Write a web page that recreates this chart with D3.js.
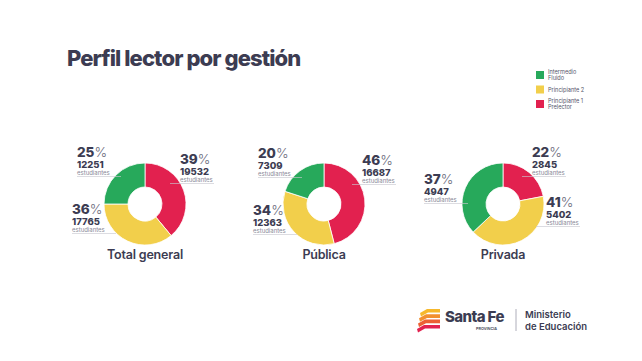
<!DOCTYPE html>
<html>
<head>
<meta charset="utf-8">
<script src="https://cdn.jsdelivr.net/npm/d3@7"></script>
<style>
  body { margin: 0; background: #fff; }
  svg { display: block; font-family: Inter, "Open Sans", sans-serif; }
</style>
</head>
<body>
<div id="chart"></div>
<script>
// Data
var groups = ["Total general", "Pública", "Privada"];
var categories = ["Principiante 1 Prelector", "Principiante 2", "Intermedio Fluido"];
var percents = {
  "Total general": [39, 36, 25],
  "Pública": [46, 34, 20],
  "Privada": [22, 41, 37]
};
var students = {
  "Total general": [19532, 17765, 12251],
  "Pública": [16687, 12363, 7309],
  "Privada": [2845, 5402, 4947]
};
var legendLabels = [["Intermedio", "Fluido"], ["Principiante 2"], ["Principiante 1", "Prelector"]];
var legendColors = ["#27a95b", "#f2cf4b", "#e2214f"];

var colors = { "Principiante 1 Prelector": "#e2214f", "Principiante 2": "#f2cf4b", "Intermedio Fluido": "#27a95b" };

// label offsets from each donut centre (layout only)
var labelOffsets = {
  "Total general": [[35, -40], [-73, 10], [-68, -47]],
  "Pública": [[38, -39], [-71, 11], [-66, -46]],
  "Privada": [[29, -47], [43, 3], [-79, -20]]
};

var W = 642, H = 361;
var ink = "#3c3c52";

var svg = d3.select("#chart").append("svg")
  .attr("width", W).attr("height", H);

svg.append("text")
  .attr("x", 67).attr("y", 66)
  .attr("font-size", 22).attr("font-weight", 800)
  .attr("letter-spacing", -0.9)
  .attr("fill", ink)
  .text("Perfil lector por gestión");

// donuts
var xScale = d3.scalePoint().domain(groups).range([145, 503]);
var cy = 204;
var outerR = 41, innerR = 17;

var pie = d3.pie().sort(null).value(function(d){ return d.value; });
var arc = d3.arc().innerRadius(innerR).outerRadius(outerR);

groups.forEach(function(g){
  var cx = xScale(g);
  var data = categories.map(function(c, i){
    return { cat: c, value: percents[g][i], n: students[g][i], i: i };
  });
  var chart = svg.append("g").attr("transform", "translate(" + cx + "," + cy + ")");

  chart.selectAll("path")
    .data(pie(data))
    .enter()
    .append("path")
    .attr("d", arc)
    .attr("fill", function(d){ return colors[d.data.cat]; })
    .attr("stroke", "#fff")
    .attr("stroke-width", 0.8);

  data.forEach(function(d){
    var off = labelOffsets[g][d.i];
    var lbl = svg.append("g").attr("transform", "translate(" + (cx + off[0]) + "," + (cy + off[1]) + ")");
    var right = off[0] > 0;
    lbl.append("line")
      .attr("x1", right ? -10 : 0).attr("x2", right ? 34 : 44)
      .attr("y1", 19.5).attr("y2", 19.5)
      .attr("stroke", "#c9c9d0").attr("stroke-width", 0.8)
      .attr("opacity", 0.8);
    var t = lbl.append("text").attr("x", 0).attr("y", 0).attr("fill", ink);
    t.append("tspan").attr("font-size", 13.5).attr("font-weight", 800).text(d.value);
    t.append("tspan").attr("font-size", 13.5).attr("font-weight", 300).attr("fill", "#6b6b7c").text("%");
    lbl.append("text").attr("x", 0).attr("y", 10.5)
      .attr("font-size", 9.5).attr("font-weight", 800).attr("fill", ink)
      .text(d.n);
    lbl.append("text").attr("x", 0).attr("y", 17.5)
      .attr("font-size", 6).attr("fill", "#8a8a98")
      .text("estudiantes");
  });

  svg.append("text")
    .attr("x", cx).attr("y", 259)
    .attr("text-anchor", "middle")
    .attr("font-size", 12.5).attr("font-weight", 600)
    .attr("letter-spacing", -0.2)
    .attr("fill", ink)
    .text(g);
});

// legend
var legend = svg.append("g").attr("transform", "translate(536,71)");
legendLabels.forEach(function(lines, i){
  var row = legend.append("g").attr("transform", "translate(0," + (i * 14.5) + ")");
  row.append("rect").attr("width", 8).attr("height", 8).attr("fill", legendColors[i]);
  lines.forEach(function(l, j){
    row.append("text")
      .attr("x", 12)
      .attr("y", (lines.length > 1 ? 3.3 : 6) + j * 5.4)
      .attr("font-size", 5.6).attr("fill", "#55556a")
      .text(l);
  });
});

// footer logo
var logo = svg.append("g").attr("transform", "translate(417,309)");
var stripeColors = ["#f6b82c", "#f29030", "#ec5f33", "#e2214f"];
stripeColors.forEach(function(c, i){
  var y = i * 5.3;
  logo.append("path")
    .attr("d", "M" + (3 - i * 1) + "," + (y + 4) + " L" + (10 - i) + "," + y + " L23," + y +
               " L23," + (y + 3.6) + " L" + (11 - i) + "," + (y + 3.6) + " L" + (4 - i) + "," + (y + 7.5) + " Z")
    .attr("fill", c);
});
svg.append("text").attr("x", 445).attr("y", 322)
  .attr("font-size", 15).attr("font-weight", 800).attr("letter-spacing", -0.6)
  .attr("fill", ink).text("Santa Fe");
svg.append("text").attr("x", 476).attr("y", 330)
  .attr("font-size", 3.8).attr("font-weight", 600)
  .attr("fill", ink).text("PROVINCIA");
svg.append("line").attr("x1", 516).attr("x2", 516).attr("y1", 309).attr("y2", 331)
  .attr("stroke", "#9a9aa8").attr("stroke-width", 0.8);
svg.append("text").attr("x", 525).attr("y", 318)
  .attr("font-size", 9.5).attr("font-weight", 600)
  .attr("fill", ink).text("Ministerio");
svg.append("text").attr("x", 525).attr("y", 329.5)
  .attr("font-size", 9.5).attr("font-weight", 600)
  .attr("fill", ink).text("de Educación");
</script>
</body>
</html>
